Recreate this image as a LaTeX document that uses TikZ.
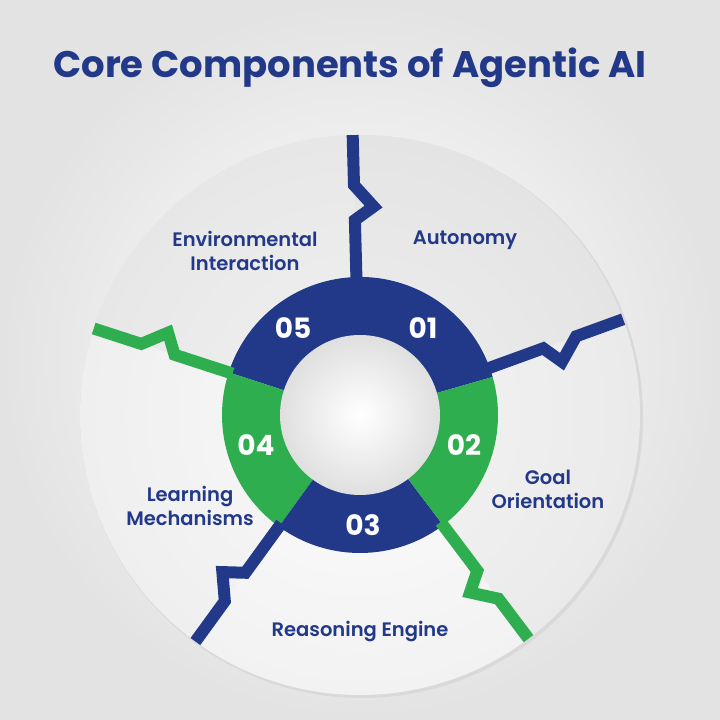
\documentclass[tikz,border=0pt]{standalone}
\usepackage{fontspec}
\setmainfont{Poppins}
\newfontfamily\popb{Poppins}[UprightFont=* Bold]
\newfontfamily\pops{Poppins}[UprightFont=* SemiBold]
\definecolor{navy}{HTML}{22398A}
\definecolor{grn}{HTML}{2EAE4E}
\begin{document}
\begin{tikzpicture}[x=1pt,y=1pt,
  sep/.style={line width=12pt,line join=miter,line cap=butt},
  num/.style={text=white,font=\popb\fontsize{28}{28}\selectfont},
  lbl/.style={text=navy,align=center,font=\pops\fontsize{19.5}{24}\selectfont}]
\useasboundingbox (0,0) rectangle (720,720);
\shade[inner color=white,outer color=gray!22] (0,0) rectangle (720,720);
\coordinate (c) at (360,305);
% big disc
\fill[gray!30] (c) ++(2,-2) circle[radius=281];
\shade[inner color=gray!4,outer color=gray!25] (c) circle[radius=280];
% sector tints
\foreach \a/\b/\t in {91.5/20/18,20/-53/10,-53/-126/0,-126/-198/4,162/91.5/14}{
  \fill[gray!\t,opacity=0.6] (c) -- ++(\a:280) arc[start angle=\a,end angle=\b,radius=280] -- cycle;}
% ring
\fill[navy] (c) -- ++(16:138) arc[start angle=16,end angle=162,radius=138] -- cycle;
\fill[grn] (c) -- ++(162:138) arc[start angle=162,end angle=234,radius=138] -- cycle;
\fill[navy] (c) -- ++(234:138) arc[start angle=234,end angle=307,radius=138] -- cycle;
\fill[grn] (c) -- ++(307:138) arc[start angle=307,end angle=376,radius=138] -- cycle;
\shade[inner color=white,outer color=gray!25] (c) circle[radius=80];
% separators
\foreach \ang/\col in {91.5/navy,20/navy,-53/grn,-126/navy,162/grn}{
  \begin{scope}[shift={(c)},rotate=\ang]
  \draw[sep,\col] (134,0) -- (195,0) -- (208,-19) -- (230,0) -- (280,0);
  \end{scope}}
% numbers
\node[num] (n5) at (293,392) {05};
\node[num] (n1) at (423,392) {01};
\node[num] (n2) at (464,275) {02};
\node[num] (n3) at (363,195) {03};
\node[num] (n4) at (256,275) {04};
% labels
\node[lbl] (l5) at (245,469) {Environmental\\Interaction};
\node[lbl] (l1) at (465,480) {Autonomy};
\node[lbl] (l2) at (548,231) {Goal\\Orientation};
\node[lbl] (l4) at (190,214) {Learning\\Mechanisms};
\node[lbl] (l3) at (360,88) {Reasoning Engine};
\node[text=navy,font=\popb\fontsize{37}{37}\selectfont] (t) at (350,652) {Core Components of Agentic AI};
\end{tikzpicture}
\end{document}
